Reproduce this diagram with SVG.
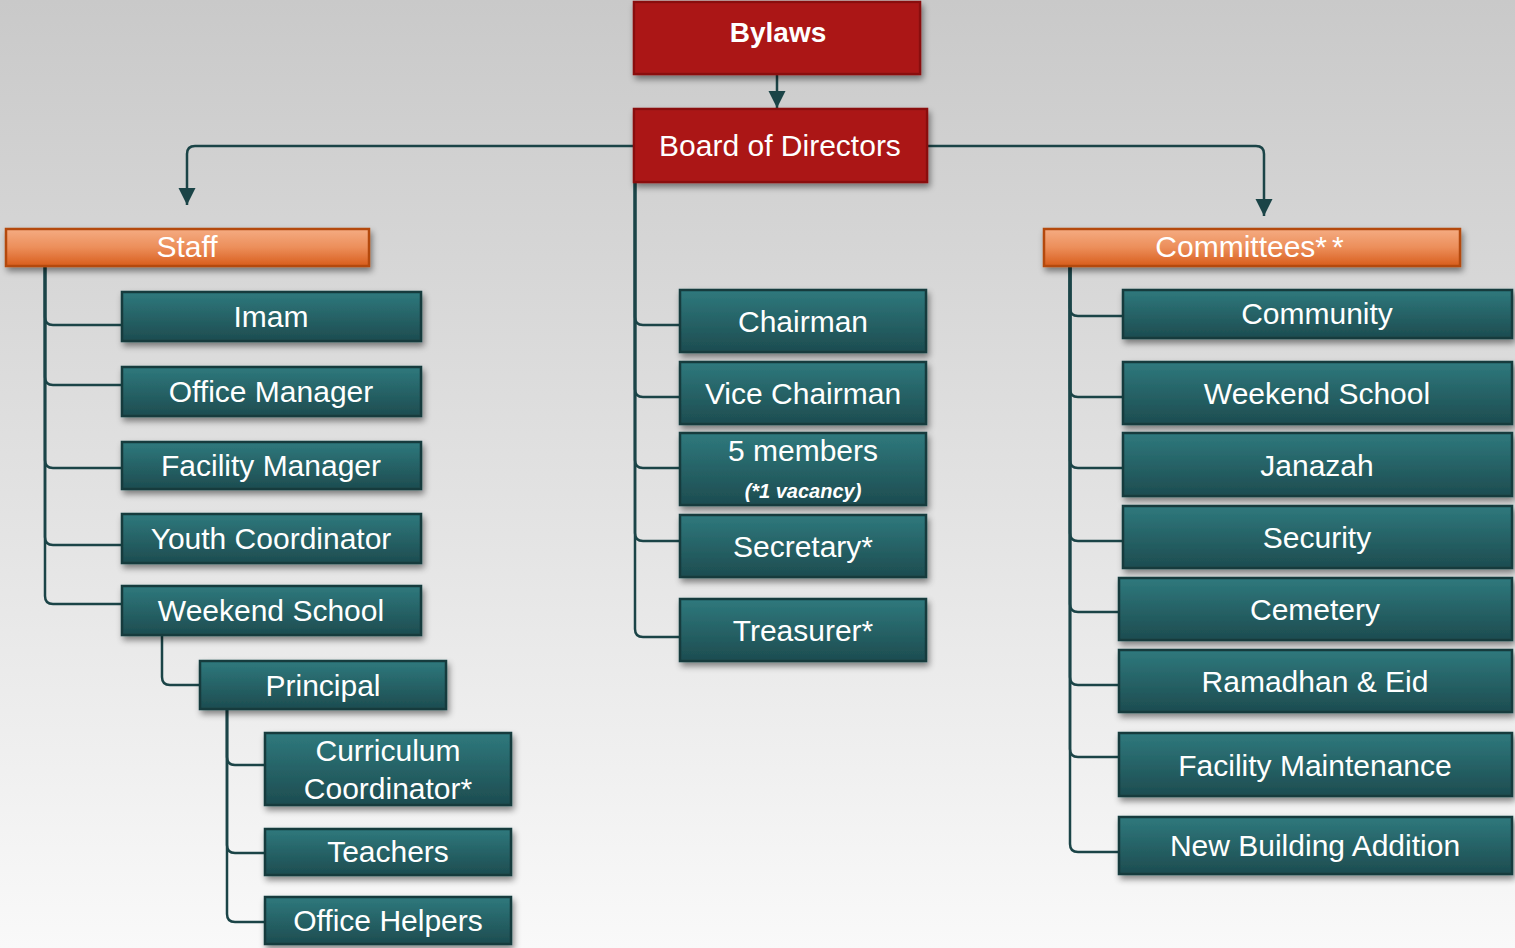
<svg xmlns="http://www.w3.org/2000/svg" width="1515" height="948" viewBox="0 0 1515 948">
<defs>
<linearGradient id="bg" x1="0" y1="0" x2="0" y2="1"><stop offset="0" stop-color="#c9c9c9"/><stop offset="1" stop-color="#f9f9f9"/></linearGradient>
<linearGradient id="teal" x1="0" y1="0" x2="0" y2="1"><stop offset="0" stop-color="#2f797d"/><stop offset="1" stop-color="#1d4c50"/></linearGradient>
<linearGradient id="orange" x1="0" y1="0" x2="0" y2="1"><stop offset="0" stop-color="#f5ac82"/><stop offset="0.5" stop-color="#ec8e5a"/><stop offset="1" stop-color="#d85d1c"/></linearGradient>
<filter id="sh" x="-10%" y="-20%" width="130%" height="160%"><feDropShadow dx="2" dy="4" stdDeviation="3" flood-color="#000" flood-opacity="0.45"/></filter>
<marker id="arr" viewBox="0 0 10 10" refX="10" refY="5" markerWidth="7" markerHeight="7" markerUnits="strokeWidth" orient="auto"><path d="M0,0 L10,5 L0,10 z" fill="#1b4447"/></marker>
<style>
.t rect{fill:url(#teal);stroke:#163b3e;stroke-width:2.5;filter:url(#sh)}
.o rect{fill:url(#orange);stroke:#b44a10;stroke-width:2.5;filter:url(#sh)}
.r rect{fill:#ab1616;stroke:#8a1010;stroke-width:2.5;filter:url(#sh)}
text{font-family:"Liberation Sans",Arial,sans-serif;fill:#fff;font-size:30px;text-anchor:middle;dominant-baseline:central}
text.b{font-size:28px;font-weight:bold}
text.v{font-size:20px;font-style:italic;font-weight:bold}
.c path{fill:none;stroke:#1b4447;stroke-width:2.5}
</style>
</defs>
<rect x="0" y="0" width="1515" height="948" fill="url(#bg)"/>
<g class="c" id="connectors">
<path d="M777,74 V108" marker-end="url(#arr)"/>
<path d="M634,146 H195 Q187,146 187,154 V205" marker-end="url(#arr)"/>
<path d="M927,146 H1256 Q1264,146 1264,154 V216" marker-end="url(#arr)"/>
<path d="M45,266 V317 Q45,325 53,325 H122"/>
<path d="M45,266 V377 Q45,385 53,385 H122"/>
<path d="M45,266 V460 Q45,468 53,468 H122"/>
<path d="M45,266 V537 Q45,545 53,545 H122"/>
<path d="M45,266 V596 Q45,604 53,604 H122"/>
<path d="M162,635 V677 Q162,685 170,685 H200"/>
<path d="M227,709 V757 Q227,765 235,765 H265"/>
<path d="M227,709 V845 Q227,853 235,853 H265"/>
<path d="M227,709 V914 Q227,922 235,922 H265"/>
<path d="M635,182 V317 Q635,325 643,325 H680"/>
<path d="M635,182 V389 Q635,397 643,397 H680"/>
<path d="M635,182 V460 Q635,468 643,468 H680"/>
<path d="M635,182 V533 Q635,541 643,541 H680"/>
<path d="M635,182 V629 Q635,637 643,637 H680"/>
<path d="M1070,266 V308 Q1070,316 1078,316 H1123"/>
<path d="M1070,266 V389 Q1070,397 1078,397 H1123"/>
<path d="M1070,266 V460 Q1070,468 1078,468 H1123"/>
<path d="M1070,266 V533 Q1070,541 1078,541 H1123"/>
<path d="M1070,266 V604 Q1070,612 1078,612 H1119"/>
<path d="M1070,266 V677 Q1070,685 1078,685 H1119"/>
<path d="M1070,266 V749 Q1070,757 1078,757 H1119"/>
<path d="M1070,266 V844 Q1070,852 1078,852 H1119"/>
</g>
<g id="bylaws" class="r"><rect x="634" y="2" width="286" height="72"/><text class="b" x="778" y="32">Bylaws</text></g>
<g id="board" class="r"><rect x="634" y="109" width="293" height="73"/><text x="780" y="145">Board of Directors</text></g>
<g id="staff" class="o"><rect x="6" y="229" width="363" height="37"/><text x="187" y="246">Staff</text></g>
<g id="committees" class="o"><rect x="1044" y="229" width="416" height="37"/><text x="1252" y="246">Committees<tspan letter-spacing="5">**</tspan></text></g>
<g id="imam" class="t"><rect x="122" y="292" width="299" height="49"/><text x="271" y="316">Imam</text></g>
<g id="office-manager" class="t"><rect x="122" y="367" width="299" height="49"/><text x="271" y="391">Office Manager</text></g>
<g id="facility-manager" class="t"><rect x="122" y="442" width="299" height="47"/><text x="271" y="465">Facility Manager</text></g>
<g id="youth-coordinator" class="t"><rect x="122" y="514" width="299" height="49"/><text x="271" y="538">Youth Coordinator</text></g>
<g id="staff-weekend-school" class="t"><rect x="122" y="586" width="299" height="49"/><text x="271" y="610">Weekend School</text></g>
<g id="principal" class="t"><rect x="200" y="661" width="246" height="48"/><text x="323" y="685">Principal</text></g>
<g id="curriculum" class="t"><rect x="265" y="733" width="246" height="72"/><text x="388" y="750">Curriculum</text><text x="388" y="788">Coordinator*</text></g>
<g id="teachers" class="t"><rect x="265" y="829" width="246" height="46"/><text x="388" y="851">Teachers</text></g>
<g id="office-helpers" class="t"><rect x="265" y="897" width="246" height="47"/><text x="388" y="920">Office Helpers</text></g>
<g id="chairman" class="t"><rect x="680" y="290" width="246" height="62"/><text x="803" y="321">Chairman</text></g>
<g id="vice-chairman" class="t"><rect x="680" y="362" width="246" height="62"/><text x="803" y="393">Vice Chairman</text></g>
<g id="members" class="t"><rect x="680" y="433" width="246" height="72"/><text x="803" y="450">5 members</text><text class="v" x="803" y="491">(*1 vacancy)</text></g>
<g id="secretary" class="t"><rect x="680" y="515" width="246" height="62"/><text x="803" y="546">Secretary*</text></g>
<g id="treasurer" class="t"><rect x="680" y="599" width="246" height="62"/><text x="803" y="630">Treasurer*</text></g>
<g id="community" class="t"><rect x="1123" y="290" width="389" height="48"/><text x="1317" y="313">Community</text></g>
<g id="com-weekend-school" class="t"><rect x="1123" y="362" width="389" height="62"/><text x="1317" y="393">Weekend School</text></g>
<g id="janazah" class="t"><rect x="1123" y="433" width="389" height="63"/><text x="1317" y="465">Janazah</text></g>
<g id="security" class="t"><rect x="1123" y="506" width="389" height="62"/><text x="1317" y="537">Security</text></g>
<g id="cemetery" class="t"><rect x="1119" y="578" width="393" height="62"/><text x="1315" y="609">Cemetery</text></g>
<g id="ramadhan" class="t"><rect x="1119" y="650" width="393" height="62"/><text x="1315" y="681">Ramadhan &amp; Eid</text></g>
<g id="facility-maintenance" class="t"><rect x="1119" y="733" width="393" height="63"/><text x="1315" y="765">Facility Maintenance</text></g>
<g id="new-building" class="t"><rect x="1119" y="817" width="393" height="57"/><text x="1315" y="845">New Building Addition</text></g>
</svg>
